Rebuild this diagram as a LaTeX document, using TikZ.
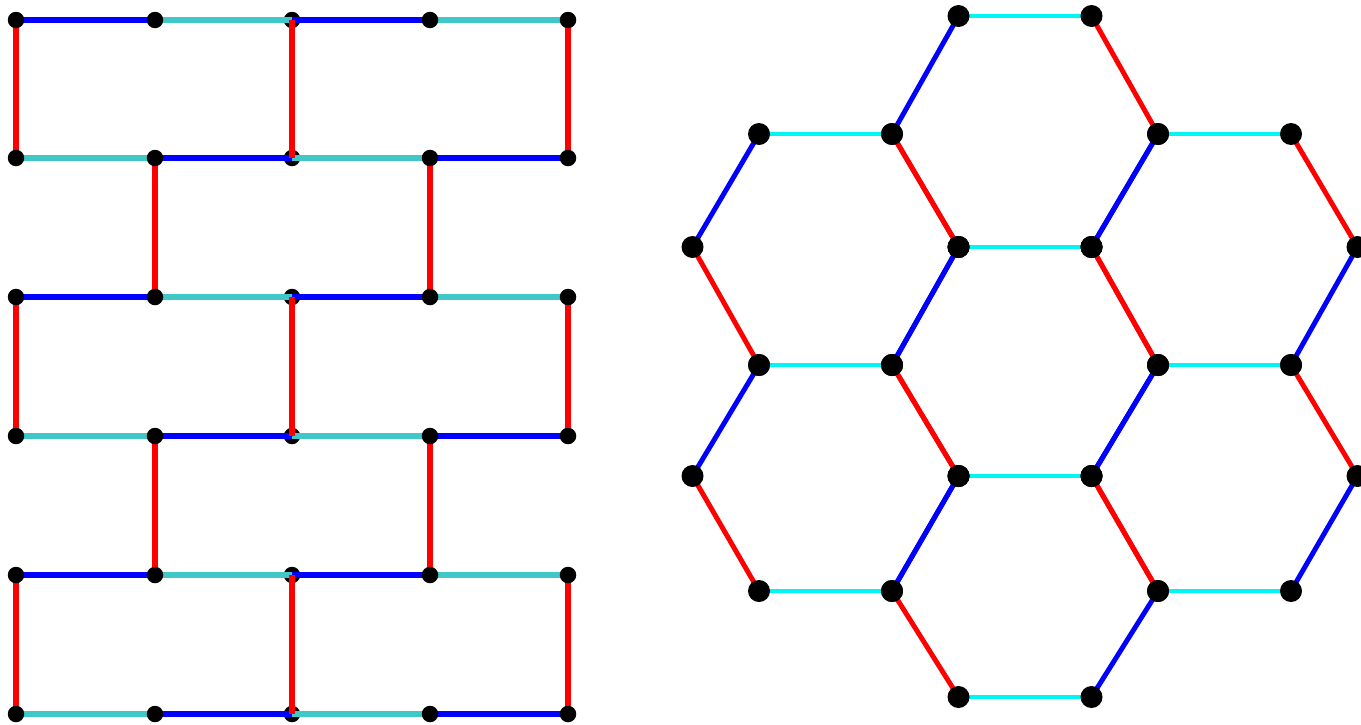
\documentclass[tikz,border=0pt]{standalone}
\usetikzlibrary{calc}
\definecolor{tealL}{RGB}{64,200,200}
\definecolor{cyanR}{RGB}{0,245,245}
\definecolor{blueE}{RGB}{0,0,255}
\definecolor{redE}{RGB}{255,0,0}
\tikzset{
  ledge/.style={line width=3.4pt},
  redge/.style={line width=2.8pt},
  ldot/.style={fill=black, draw=none},
  rdot/.style={fill=black, draw=none},
}
\begin{document}
\begin{tikzpicture}[x=0.02cm,y=-0.02cm]
\useasboundingbox (0,0) rectangle (1361,724);
% ---------- brick lattice ----------
\def\xa{16}\def\xb{155}\def\xc{292}\def\xd{430}\def\xe{568}
\foreach \y [count=\r from 0] in {20,158,297,436,575,714}{
  \coordinate (L\r-1) at (\xa,\y);
  \coordinate (L\r-2) at (\xb,\y);
  \coordinate (L\r-3) at (\xc,\y);
  \coordinate (L\r-4) at (\xd,\y);
  \coordinate (L\r-5) at (\xe,\y);
}
% dots in the middle column drawn under the edges
\foreach \r in {0,...,5}{ \fill[ldot] (L\r-3) circle[radius=0.165cm]; }
% horizontal edges
\foreach \r in {0,2,4}{
  \draw[ledge,blueE] (L\r-1) -- (L\r-2);
  \draw[ledge,tealL] (L\r-2) -- (L\r-3);
  \draw[ledge,blueE] (L\r-3) -- (L\r-4);
  \draw[ledge,tealL] (L\r-4) -- (L\r-5);
}
\foreach \r in {1,3,5}{
  \draw[ledge,tealL] (L\r-1) -- (L\r-2);
  \draw[ledge,blueE] (L\r-2) -- (L\r-3);
  \draw[ledge,tealL] (L\r-3) -- (L\r-4);
  \draw[ledge,blueE] (L\r-4) -- (L\r-5);
}
% vertical edges
\foreach \r/\s in {0/1,2/3,4/5}{
  \draw[ledge,redE] (L\r-1) -- (L\s-1);
  \draw[ledge,redE] (L\r-3) -- (L\s-3);
  \draw[ledge,redE] (L\r-5) -- (L\s-5);
}
\foreach \r/\s in {1/2,3/4}{
  \draw[ledge,redE] (L\r-2) -- (L\s-2);
  \draw[ledge,redE] (L\r-4) -- (L\s-4);
}
\foreach \r in {0,...,5}{
  \foreach \c in {1,2,4,5}{ \fill[ldot] (L\r-\c) circle[radius=0.165cm]; }
}
% ---------- honeycomb flake ----------
\def\s{133}
% centre x / top y / middle y / bottom y
\foreach \cx/\ta/\tb/\tc [count=\k] in {
   1025/16/134/247, 825.5/134/247/365, 1224.5/134/247/365,
   1025/247/365/476, 825.5/365/476/591, 1224.5/365/476/591,
   1025/476/591/697}{
  \coordinate (H\k-E)  at (\cx+\s,\tb);
  \coordinate (H\k-W)  at (\cx-\s,\tb);
  \coordinate (H\k-NE) at (\cx+\s/2,\ta);
  \coordinate (H\k-NW) at (\cx-\s/2,\ta);
  \coordinate (H\k-SE) at (\cx+\s/2,\tc);
  \coordinate (H\k-SW) at (\cx-\s/2,\tc);
  \draw[redge,cyanR] (H\k-NW) -- (H\k-NE);
  \draw[redge,cyanR] (H\k-SW) -- (H\k-SE);
  \draw[redge,redE]  (H\k-NE) -- (H\k-E);
  \draw[redge,redE]  (H\k-W) -- (H\k-SW);
  \draw[redge,blueE] (H\k-W) -- (H\k-NW);
  \draw[redge,blueE] (H\k-SE) -- (H\k-E);
}
\foreach \k in {1,...,7}{
  \foreach \v in {E,W,NE,NW,SE,SW}{ \fill[rdot] (H\k-\v) circle[radius=0.22cm]; }
}
\end{tikzpicture}
\end{document}
